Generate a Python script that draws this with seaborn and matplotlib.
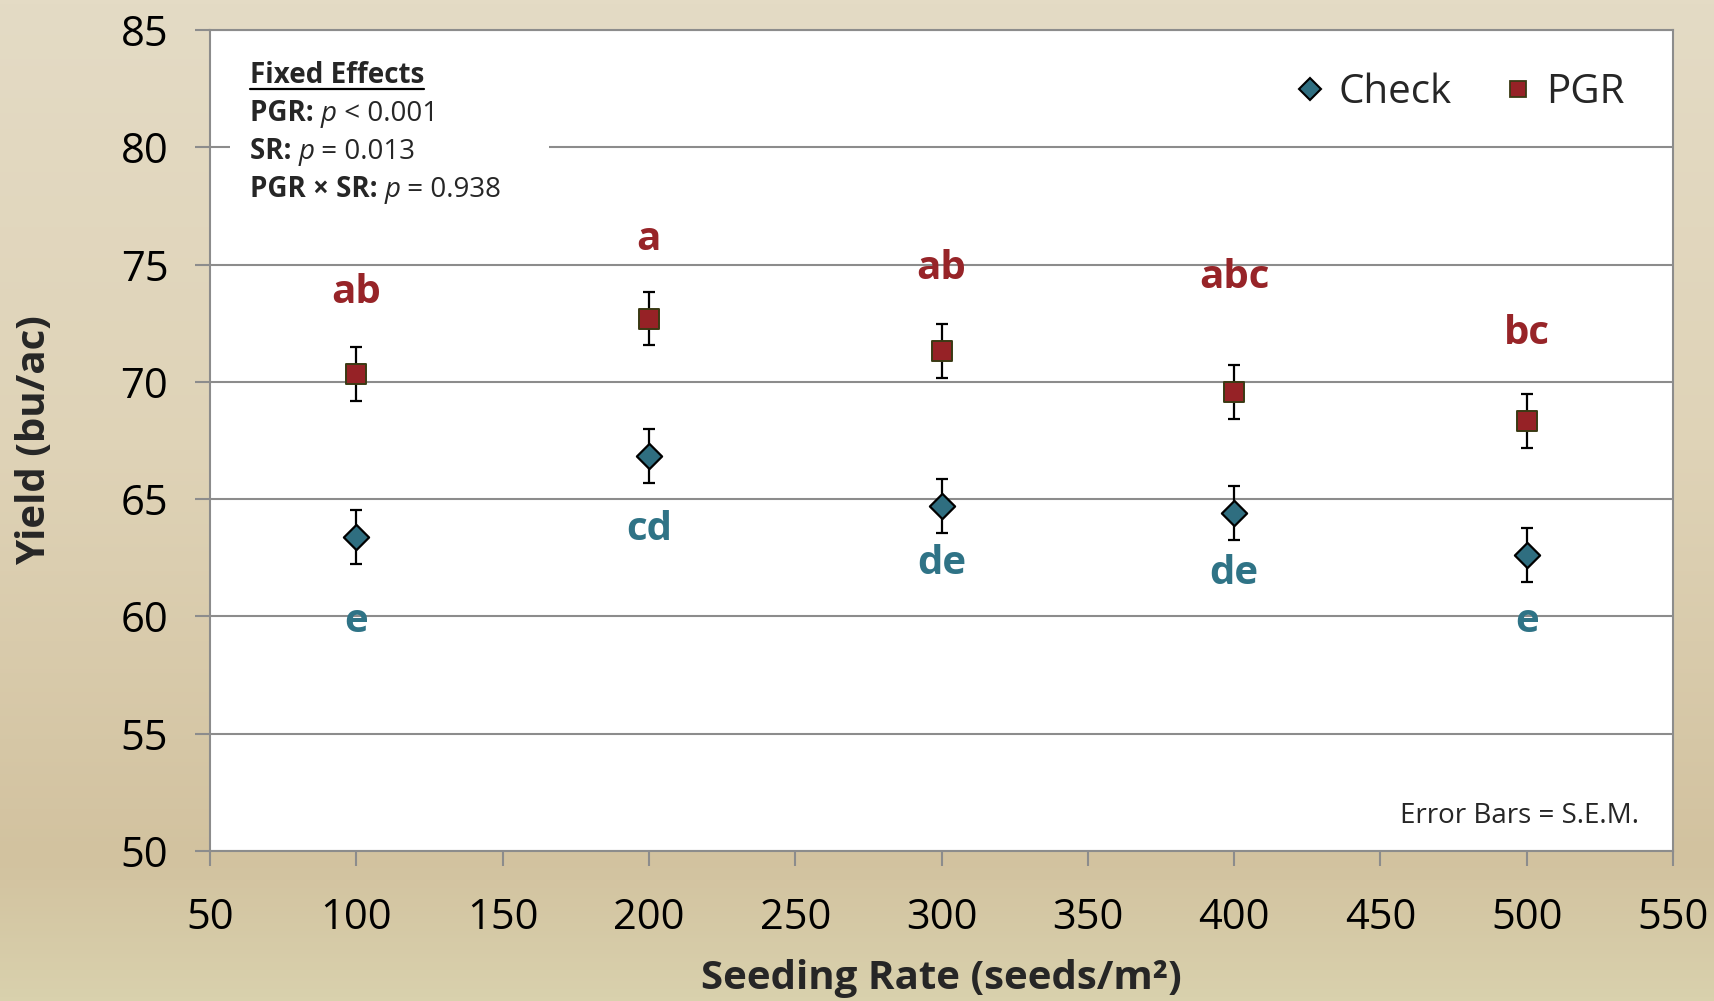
import numpy as np
import pandas as pd
import matplotlib
matplotlib.use("Agg")
import matplotlib.pyplot as plt
from matplotlib.lines import Line2D
from matplotlib.patches import Rectangle
from matplotlib.colors import LinearSegmentedColormap
import seaborn as sns

# ---- data -------------------------------------------------------------
seeding_rate = [100, 200, 300, 400, 500]
check_yield = [63.4, 66.85, 64.7, 64.4, 62.6]
pgr_yield = [70.35, 72.7, 71.3, 69.55, 68.35]
check_sem = [1.15, 1.15, 1.15, 1.15, 1.15]
pgr_sem = [1.15, 1.15, 1.15, 1.15, 1.15]
check_letters = ["e", "cd", "de", "de", "e"]
pgr_letters = ["ab", "a", "ab", "abc", "bc"]

# vertical placement of the mean-separation letters (data units)
check_letter_y = [59.8, 63.7, 62.25, 61.85, 59.8]
pgr_letter_y = [73.8, 76.05, 74.85, 74.45, 72.05]

x_ticks = [50, 100, 150, 200, 250, 300, 350, 400, 450, 500, 550]
y_ticks = [50, 55, 60, 65, 70, 75, 80, 85]

CHECK_COLOR = "#2F6E80"
PGR_COLOR = "#962226"
CHECK_TEXT = "#2F7386"
PGR_TEXT = "#972428"
GRID_COLOR = "#8C8C8C"
FONT = "Open Sans"

sns.set_theme(style="white")
plt.rcParams["font.family"] = [FONT, "DejaVu Sans"]

df = pd.DataFrame({
    "rate": seeding_rate * 2,
    "yield": check_yield + pgr_yield,
    "sem": check_sem + pgr_sem,
    "treatment": ["Check"] * 5 + ["PGR"] * 5,
})

fig = plt.figure(figsize=(17.14, 10.01), dpi=100)

# beige gradient backdrop
bg = fig.add_axes([0, 0, 1, 1], zorder=-5)
cmap = LinearSegmentedColormap.from_list(
    "beige",
    [(0.0, "#E4DBC5"), (0.45, "#DFD3B7"), (0.86, "#D2C29F"), (1.0, "#D9D1AD")],
)
grad = np.linspace(0, 1, 256).reshape(-1, 1)
bg.imshow(grad, aspect="auto", cmap=cmap, extent=[0, 1, 1, 0])
bg.set_axis_off()

ax = fig.add_axes([210 / 1714, 1 - 851 / 1001, 1463 / 1714, 821 / 1001])
ax.set_facecolor("white")

# error bars
for trt, sub in df.groupby("treatment"):
    ax.errorbar(sub["rate"], sub["yield"], yerr=sub["sem"], fmt="none",
                ecolor="black", elinewidth=1.6, capsize=4.5, capthick=1.6,
                zorder=3)

# treatment means
sns.scatterplot(data=df[df.treatment == "Check"], x="rate", y="yield",
                marker="D", s=165, color=CHECK_COLOR, edgecolor="black",
                linewidth=1.6, ax=ax, zorder=4, legend=False)
sns.scatterplot(data=df[df.treatment == "PGR"], x="rate", y="yield",
                marker="s", s=190, color=PGR_COLOR, edgecolor="#3A3A14",
                linewidth=1.4, ax=ax, zorder=4, legend=False)

# mean-separation letters
for x, y, t in zip(seeding_rate, pgr_letter_y, pgr_letters):
    ax.text(x, y, t, color=PGR_TEXT, fontsize=29, fontweight="bold",
            ha="center", va="center", zorder=5)
for x, y, t in zip(seeding_rate, check_letter_y, check_letters):
    ax.text(x, y, t, color=CHECK_TEXT, fontsize=29, fontweight="bold",
            ha="center", va="center", zorder=5)

# axes styling
ax.set_xlim(50, 550)
ax.set_ylim(50, 85)
ax.set_xticks(x_ticks)
ax.set_yticks(y_ticks)
ax.grid(axis="y", color=GRID_COLOR, linewidth=1.5, zorder=0)
ax.set_axisbelow(True)
for sp in ax.spines.values():
    sp.set_color(GRID_COLOR)
    sp.set_linewidth(1.5)
    sp.set_visible(True)
ax.tick_params(axis="both", direction="out", length=11, width=1.5,
               color=GRID_COLOR, labelsize=30, labelcolor="black")
ax.tick_params(axis="x", bottom=True, pad=22)
ax.tick_params(axis="y", left=True, pad=19)
ax.set_xlabel("Seeding Rate (seeds/m²)", fontsize=29, fontweight="bold")
ax.set_ylabel("Yield (bu/ac)", fontsize=29, fontweight="bold")
ax.xaxis.set_label_coords(0.5, (851 - 978) / 821)
ax.xaxis.label.set_va("center")
ax.yaxis.set_label_coords((35 - 210) / 1463, 0.5)
ax.yaxis.label.set_va("center")

# legend
handles = [
    Line2D([], [], marker="D", linestyle="none", markersize=11,
           markerfacecolor=CHECK_COLOR, markeredgecolor="black",
           markeredgewidth=1.5, label="Check"),
    Line2D([], [], marker="s", linestyle="none", markersize=12,
           markerfacecolor=PGR_COLOR, markeredgecolor="#3A3A14",
           markeredgewidth=1.3, label="PGR"),
]
ax.legend(handles=handles, loc="center right", bbox_to_anchor=(0.967, 0.923),
          ncol=2, frameon=False, fontsize=29, handlelength=0.7,
          handletextpad=0.35, columnspacing=1.3, borderaxespad=0,
          borderpad=0)

# fixed-effects box
ax.add_patch(Rectangle((0.0137, 0.775), 0.218, 0.21, transform=ax.transAxes,
                       facecolor="white", edgecolor="none", zorder=2))

FS = 20
fig.canvas.draw()
renderer = fig.canvas.get_renderer()

head = ax.text(0.027, 0.935, "Fixed Effects", transform=ax.transAxes,
               fontsize=FS, fontweight="bold", va="baseline", zorder=6)
bb = head.get_window_extent(renderer).transformed(ax.transAxes.inverted())
ax.plot([bb.x0, bb.x1], [0.928, 0.928], transform=ax.transAxes,
        color="black", linewidth=1.6, zorder=6)


def rich_line(y, parts):
    """Draw consecutive text pieces with differing weights/styles."""
    prev = None
    for s, weight, style in parts:
        if prev is None:
            prev = ax.text(0.027, y, s, transform=ax.transAxes, fontsize=FS,
                           fontweight=weight, fontstyle=style,
                           va="baseline", zorder=6)
        else:
            prev = ax.annotate(s, xy=(1, 0), xycoords=prev,
                               xytext=(0, 0), textcoords="offset points",
                               fontsize=FS, fontweight=weight,
                               fontstyle=style, va="bottom", zorder=6)
        fig.canvas.draw()


rich_line(0.889, [("PGR: ", "bold", "normal"), ("p", "normal", "italic"),
                  (" < 0.001", "normal", "normal")])
rich_line(0.843, [("SR: ", "bold", "normal"), ("p", "normal", "italic"),
                  (" = 0.013", "normal", "normal")])
rich_line(0.797, [("PGR × SR: ", "bold", "normal"), ("p", "normal", "italic"),
                  (" = 0.938", "normal", "normal")])

ax.text(0.977, 0.034, "Error Bars = S.E.M.", transform=ax.transAxes,
        fontsize=20, ha="right", va="baseline", zorder=6)

fig.savefig("out.png", dpi=100)
